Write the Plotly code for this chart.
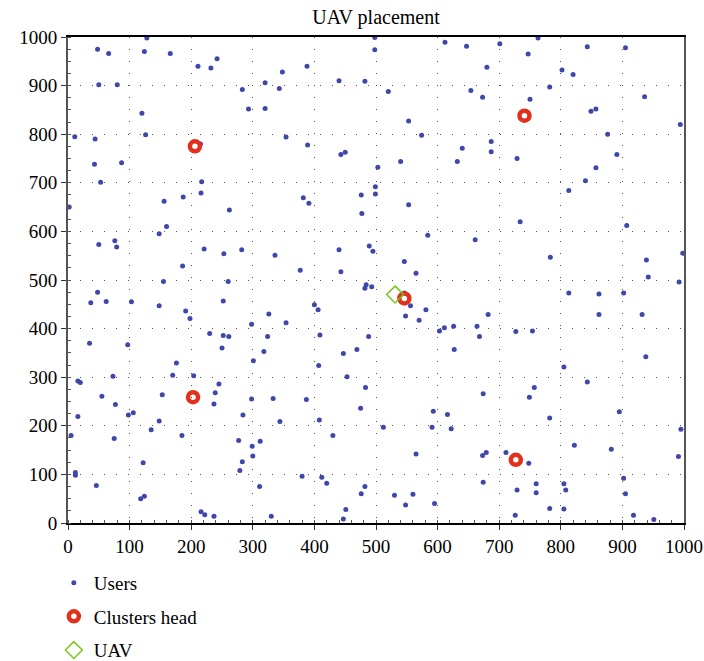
import plotly.graph_objects as go

users = [
    (128,998),(48,975),(66,966),(124,970),(166,966),(211,940),(242,955),(232,936),(50,902),(80,902),
    (283,892),(320,906),(293,852),(320,853),(120,843),(11,795),(44,790),(126,799),(215,780),(43,738),
    (87,741),(53,701),(217,702),(216,679),(187,671),
    (498,999),(498,974),(612,989),(647,981),(348,928),(388,940),(343,894),(440,910),(482,909),(520,888),
    (654,890),(673,876),(553,827),(354,794),(574,798),(389,778),(640,771),(443,758),(450,763),(540,744),
    (632,744),(503,732),(499,692),(499,677),(476,675),(382,669),
    (701,986),(763,998),(843,980),(905,978),(747,965),(680,938),(802,932),(820,923),(782,897),(750,872),
    (936,877),(849,847),(857,852),(994,820),(876,800),(687,785),(687,764),(729,750),(891,758),(857,731),
    (840,704),(813,684),
    (2,650),(156,662),(262,644),(160,610),(148,595),(50,573),(76,581),(79,568),(221,564),(253,554),
    (282,562),(336,551),(186,529),(155,497),(260,497),(48,475),(37,453),(62,456),(103,455),(148,447),
    (252,457),(191,436),(198,421),(298,409),(326,430),(230,390),(252,386),(261,384),(324,384),(35,370),
    (97,367),(250,360),(318,353),(301,334),(176,329),
    (391,658),(553,655),(477,637),(584,592),(661,583),(440,562),(489,570),(495,559),(546,538),(565,514),
    (377,520),(443,517),(484,490),(482,483),(493,486),(546,473),(556,447),(400,449),(406,439),(354,412),
    (548,426),(570,417),(581,439),(603,395),(611,402),(626,405),(664,405),(668,384),(409,387),(488,384),
    (627,357),(469,357),(447,349),
    (734,620),(907,612),(783,547),(998,555),(939,541),(942,506),(992,496),(813,473),(862,471),(902,473),
    (682,429),(862,429),(932,429),(727,394),(754,395),(938,342),
    (73,302),(170,304),(204,303),(16,292),(20,289),(55,261),(77,244),(153,264),(239,268),(245,286),
    (237,245),(298,255),(333,256),(16,219),(98,222),(106,227),(148,210),(284,222),(135,192),(185,180),
    (5,180),(75,174),(277,170),(312,168),(299,158),(300,138),(122,124),(283,126),(279,108),(12,104),
    (12,98),(46,77),(311,75),(124,55),(118,50),(216,23),(222,17),(237,14),(330,14),
    (407,324),(453,301),(483,279),(387,254),(475,236),(344,209),(408,212),(430,180),(512,197),(591,197),
    (593,230),(616,223),(622,194),(565,142),(673,139),(674,266),(380,96),(412,94),(420,82),(482,75),
    (476,60),(530,57),(560,59),(548,37),(595,40),(451,28),(447,8),(674,84),
    (805,321),(843,290),(757,279),(749,259),(782,216),(895,229),(995,193),(822,160),(882,152),(991,137),
    (679,145),(711,145),(748,123),(729,68),(760,81),(760,62),(805,81),(808,68),(902,92),(905,60),
    (782,30),(805,29),(726,16),(918,16),(951,7),
]
users_x = [p[0] for p in users]
users_y = [p[1] for p in users]

heads_x = [206, 741, 546, 203, 727]
heads_y = [775, 838, 462, 259, 130]

uav_x = [531]
uav_y = [470]

tick_vals = list(range(0, 1001, 100))
tick_text = [str(v) for v in tick_vals]

FONT = "Liberation Serif"

fig = go.Figure()
fig.add_trace(go.Scatter(
    x=users_x, y=users_y, mode="markers", name="Users", legendgroup="a",
    marker=dict(symbol="circle", size=5, color="#3f47ab"),
))
fig.add_trace(go.Scatter(
    x=heads_x, y=heads_y, mode="markers", name="Clusters head", legendgroup="b",
    marker=dict(symbol="circle-open", size=10, color="#e2301c", line=dict(width=4.5, color="#e2301c")),
))
fig.add_trace(go.Scatter(
    x=uav_x, y=uav_y, mode="markers", name="UAV", legendgroup="c",
    marker=dict(symbol="diamond-open", size=13, color="#7bc41b", line=dict(width=1.5, color="#7bc41b")),
))

axis_common = dict(
    range=[0, 1000], tickvals=tick_vals, ticktext=tick_text,
    showgrid=True, gridcolor="#555555", gridwidth=1, griddash="1px,11px",
    zeroline=False, showline=True, mirror=True, automargin=False,
    ticks="outside", ticklen=5, tickcolor="#333333",
    tickfont=dict(family=FONT, size=19, color="black"),
)

fig.update_xaxes(**axis_common, linecolor="black", linewidth=2,
                 minor=dict(dtick=20, ticks="inside", ticklen=3, tickcolor="#555555", showgrid=False))
fig.update_yaxes(**axis_common, linecolor="#555555", linewidth=2,
                 minor=dict(dtick=25, ticks="inside", ticklen=3, tickcolor="#555555", showgrid=False))

fig.update_layout(
    width=704, height=661,
    margin=dict(l=68, r=20, t=37, b=138, autoexpand=False),
    paper_bgcolor="white", plot_bgcolor="white",
    title=dict(text="UAV placement", x=0.5, xref="paper", y=0.974, yanchor="middle",
               font=dict(family=FONT, size=20, color="black")),
    showlegend=True,
    legend=dict(x=-0.023, y=-0.084, xanchor="left", yanchor="top",
                font=dict(family=FONT, size=19, color="black"),
                bgcolor="rgba(0,0,0,0)", tracegroupgap=6, orientation="v",
                borderwidth=0),
)

fig.write_html("out.html")
